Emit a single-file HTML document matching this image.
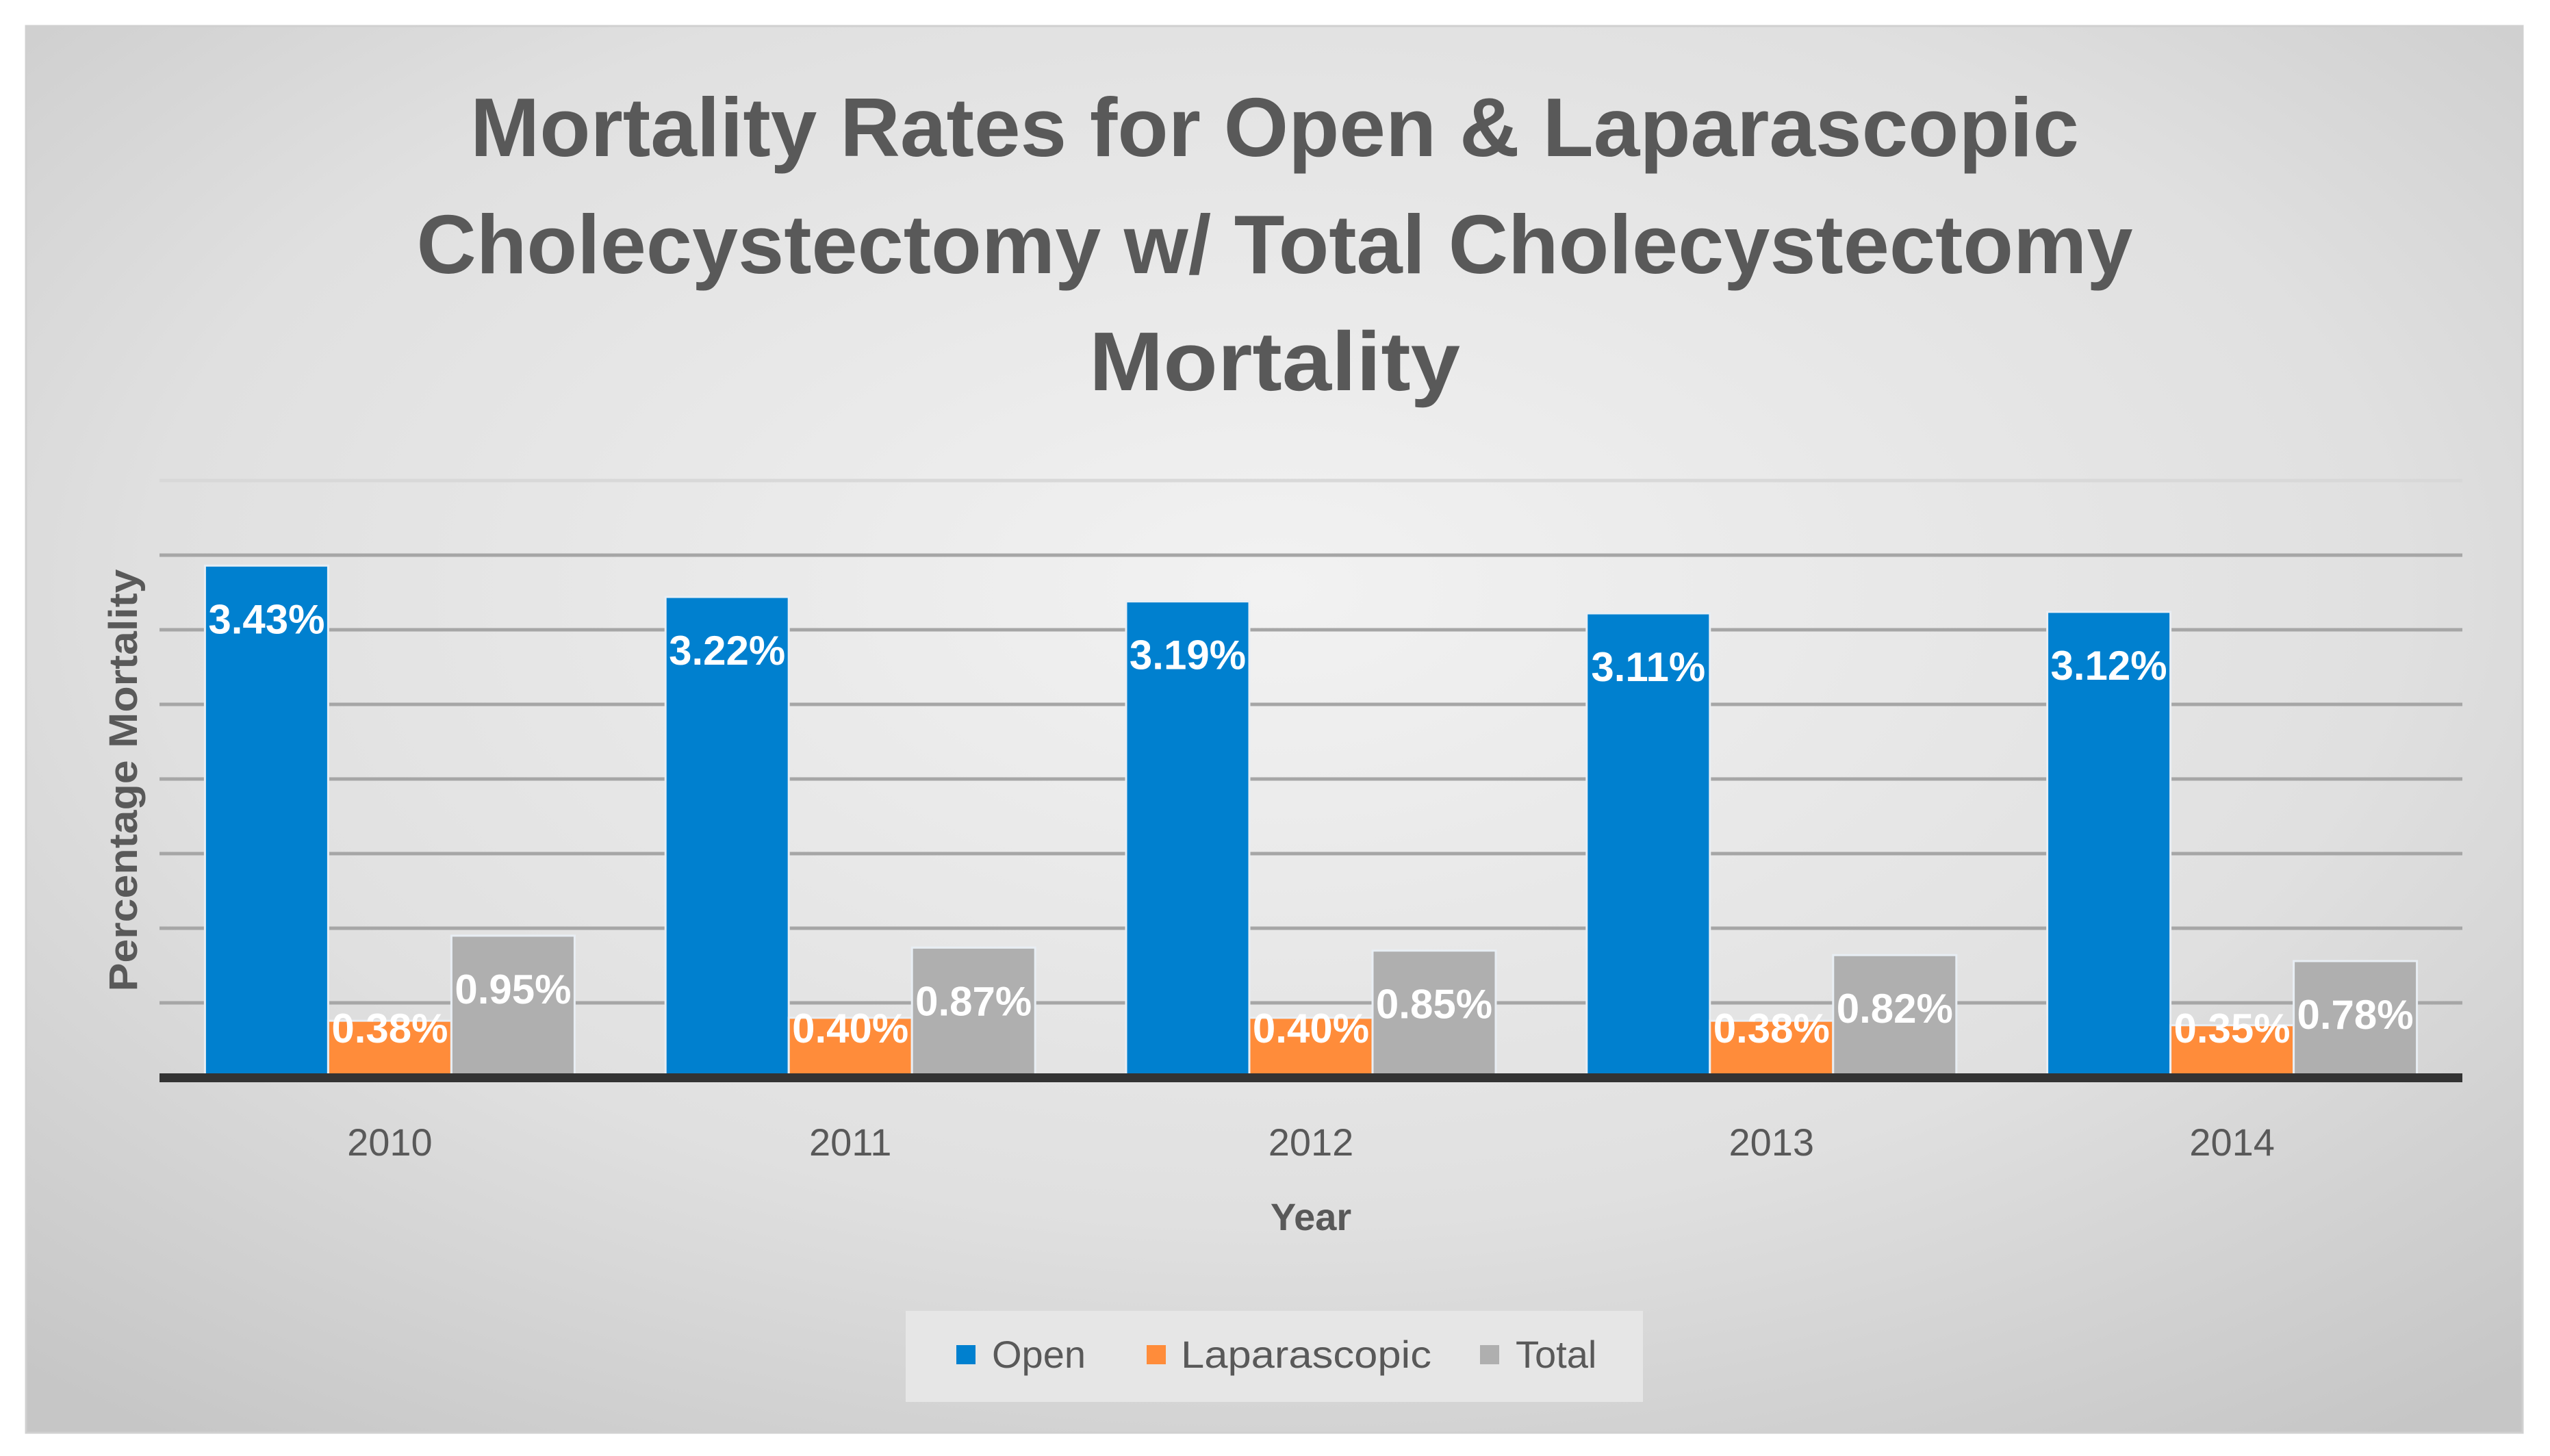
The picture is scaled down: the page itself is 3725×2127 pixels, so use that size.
<!DOCTYPE html>
<html><head><meta charset="utf-8"><style>
html,body{margin:0;padding:0;background:#fff;}
svg{display:block;font-family:"Liberation Sans",sans-serif;}
</style></head><body>
<svg id="chart" width="3725" height="2127" viewBox="0 0 3725 2127" xmlns="http://www.w3.org/2000/svg">
<defs>
<radialGradient id="bg" cx="50%" cy="40%" r="75%">
<stop offset="0" stop-color="#f2f2f2"/><stop offset="0.6" stop-color="#e0e0e0"/><stop offset="1" stop-color="#c6c6c6"/>
</radialGradient>
</defs>
<rect x="38" y="38" width="3647" height="2055" fill="url(#bg)" stroke="#d0d0d0" stroke-width="3"/>
<g fill="#595959" font-weight="bold" font-size="122" text-anchor="middle">
<text x="1862" y="228" textLength="2350" lengthAdjust="spacingAndGlyphs">Mortality Rates for Open &amp; Laparascopic</text>
<text x="1862" y="399" textLength="2507" lengthAdjust="spacingAndGlyphs">Cholecystectomy w/ Total Cholecystectomy</text>
<text x="1862" y="570" textLength="542" lengthAdjust="spacingAndGlyphs">Mortality</text>
</g>
<g id="grid"></g>
<g id="bars"></g>
<g id="labels"></g>
<rect x="233" y="1568" width="3364" height="13" fill="#333"/>
<g id="xticks"></g>
<text transform="translate(200,1140) rotate(-90)" text-anchor="middle" font-size="58" fill="#595959" font-weight="bold" textLength="617" lengthAdjust="spacingAndGlyphs">Percentage Mortality</text>
<text x="1915" y="1797" text-anchor="middle" font-size="56" fill="#595959" font-weight="bold">Year</text>
<g>
<rect x="1323" y="1915" width="1077" height="133" fill="#e6e6e6"/>
<g><rect x="1397" y="1965" width="28" height="28" fill="#0080cf"/><text x="1449" y="1998" font-size="56" fill="#595959">Open</text></g>
<g><rect x="1675" y="1965" width="28" height="28" fill="#ff8c3a"/><text x="1725" y="1998" font-size="56" fill="#595959" textLength="366" lengthAdjust="spacingAndGlyphs">Laparascopic</text></g>
<g><rect x="2162" y="1965" width="28" height="28" fill="#afafaf"/><text x="2214" y="1998" font-size="56" fill="#595959">Total</text></g>
</g>
</svg>
<script>
const categories = ["2010","2011","2012","2013","2014"];
const openVals = [3.43,3.22,3.19,3.11,3.12];
const lapVals = [0.38,0.40,0.40,0.38,0.35];
const totalVals = [0.95,0.87,0.85,0.82,0.78];
const yTicks = [0,0.5,1,1.5,2,2.5,3,3.5,4];

const NS="http://www.w3.org/2000/svg";
const plotL=233, plotR=3597, base=1574, pxPerUnit=218;
const catW=(plotR-plotL)/categories.length, barW=180;
function y(v){return base - v*pxPerUnit;}
function mk(tag,attrs,parent){const e=document.createElementNS(NS,tag);for(const k in attrs)e.setAttribute(k,attrs[k]);parent.appendChild(e);return e;}
const grid=document.getElementById('grid'),bars=document.getElementById('bars'),labels=document.getElementById('labels'),xt=document.getElementById('xticks');
yTicks.forEach((t,i)=>{ if(t===0)return;
  const l=mk('line',{x1:plotL,x2:plotR,y1:y(t),y2:y(t),stroke:i===yTicks.length-1?'#d8d8d8':'#a6a6a6','stroke-width':5},grid);
  
  
});
const series=[{n:'open',v:openVals,c:'#0080cf'},{n:'laparoscopic',v:lapVals,c:'#ff8c3a'},{n:'total',v:totalVals,c:'#afafaf'}];
categories.forEach((cat,ci)=>{
  const cx=plotL+catW*(ci+0.5);
  const gx=cx-1.5*barW;
  series.forEach((s,si)=>{
    const v=s.v[ci], x=gx+si*barW;
    const r=mk('rect',{x:x,y:y(v),width:barW,height:base-y(v),fill:s.c,stroke:'#e8eef4','stroke-width':3},bars);
    
    
    const ly=Math.min(y(v)+78,base-72);
    const t=mk('text',{x:x+barW/2,y:ly+21,'text-anchor':'middle','font-size':60,'font-weight':'bold',fill:'#fff'},labels);
    t.textContent=v.toFixed(2)+'%';
    
    
  });
  const tl=mk('text',{x:cx,y:1688,'text-anchor':'middle','font-size':56,fill:'#595959'},xt);
  tl.textContent=cat;
  
  
});
</script>
</body></html>
